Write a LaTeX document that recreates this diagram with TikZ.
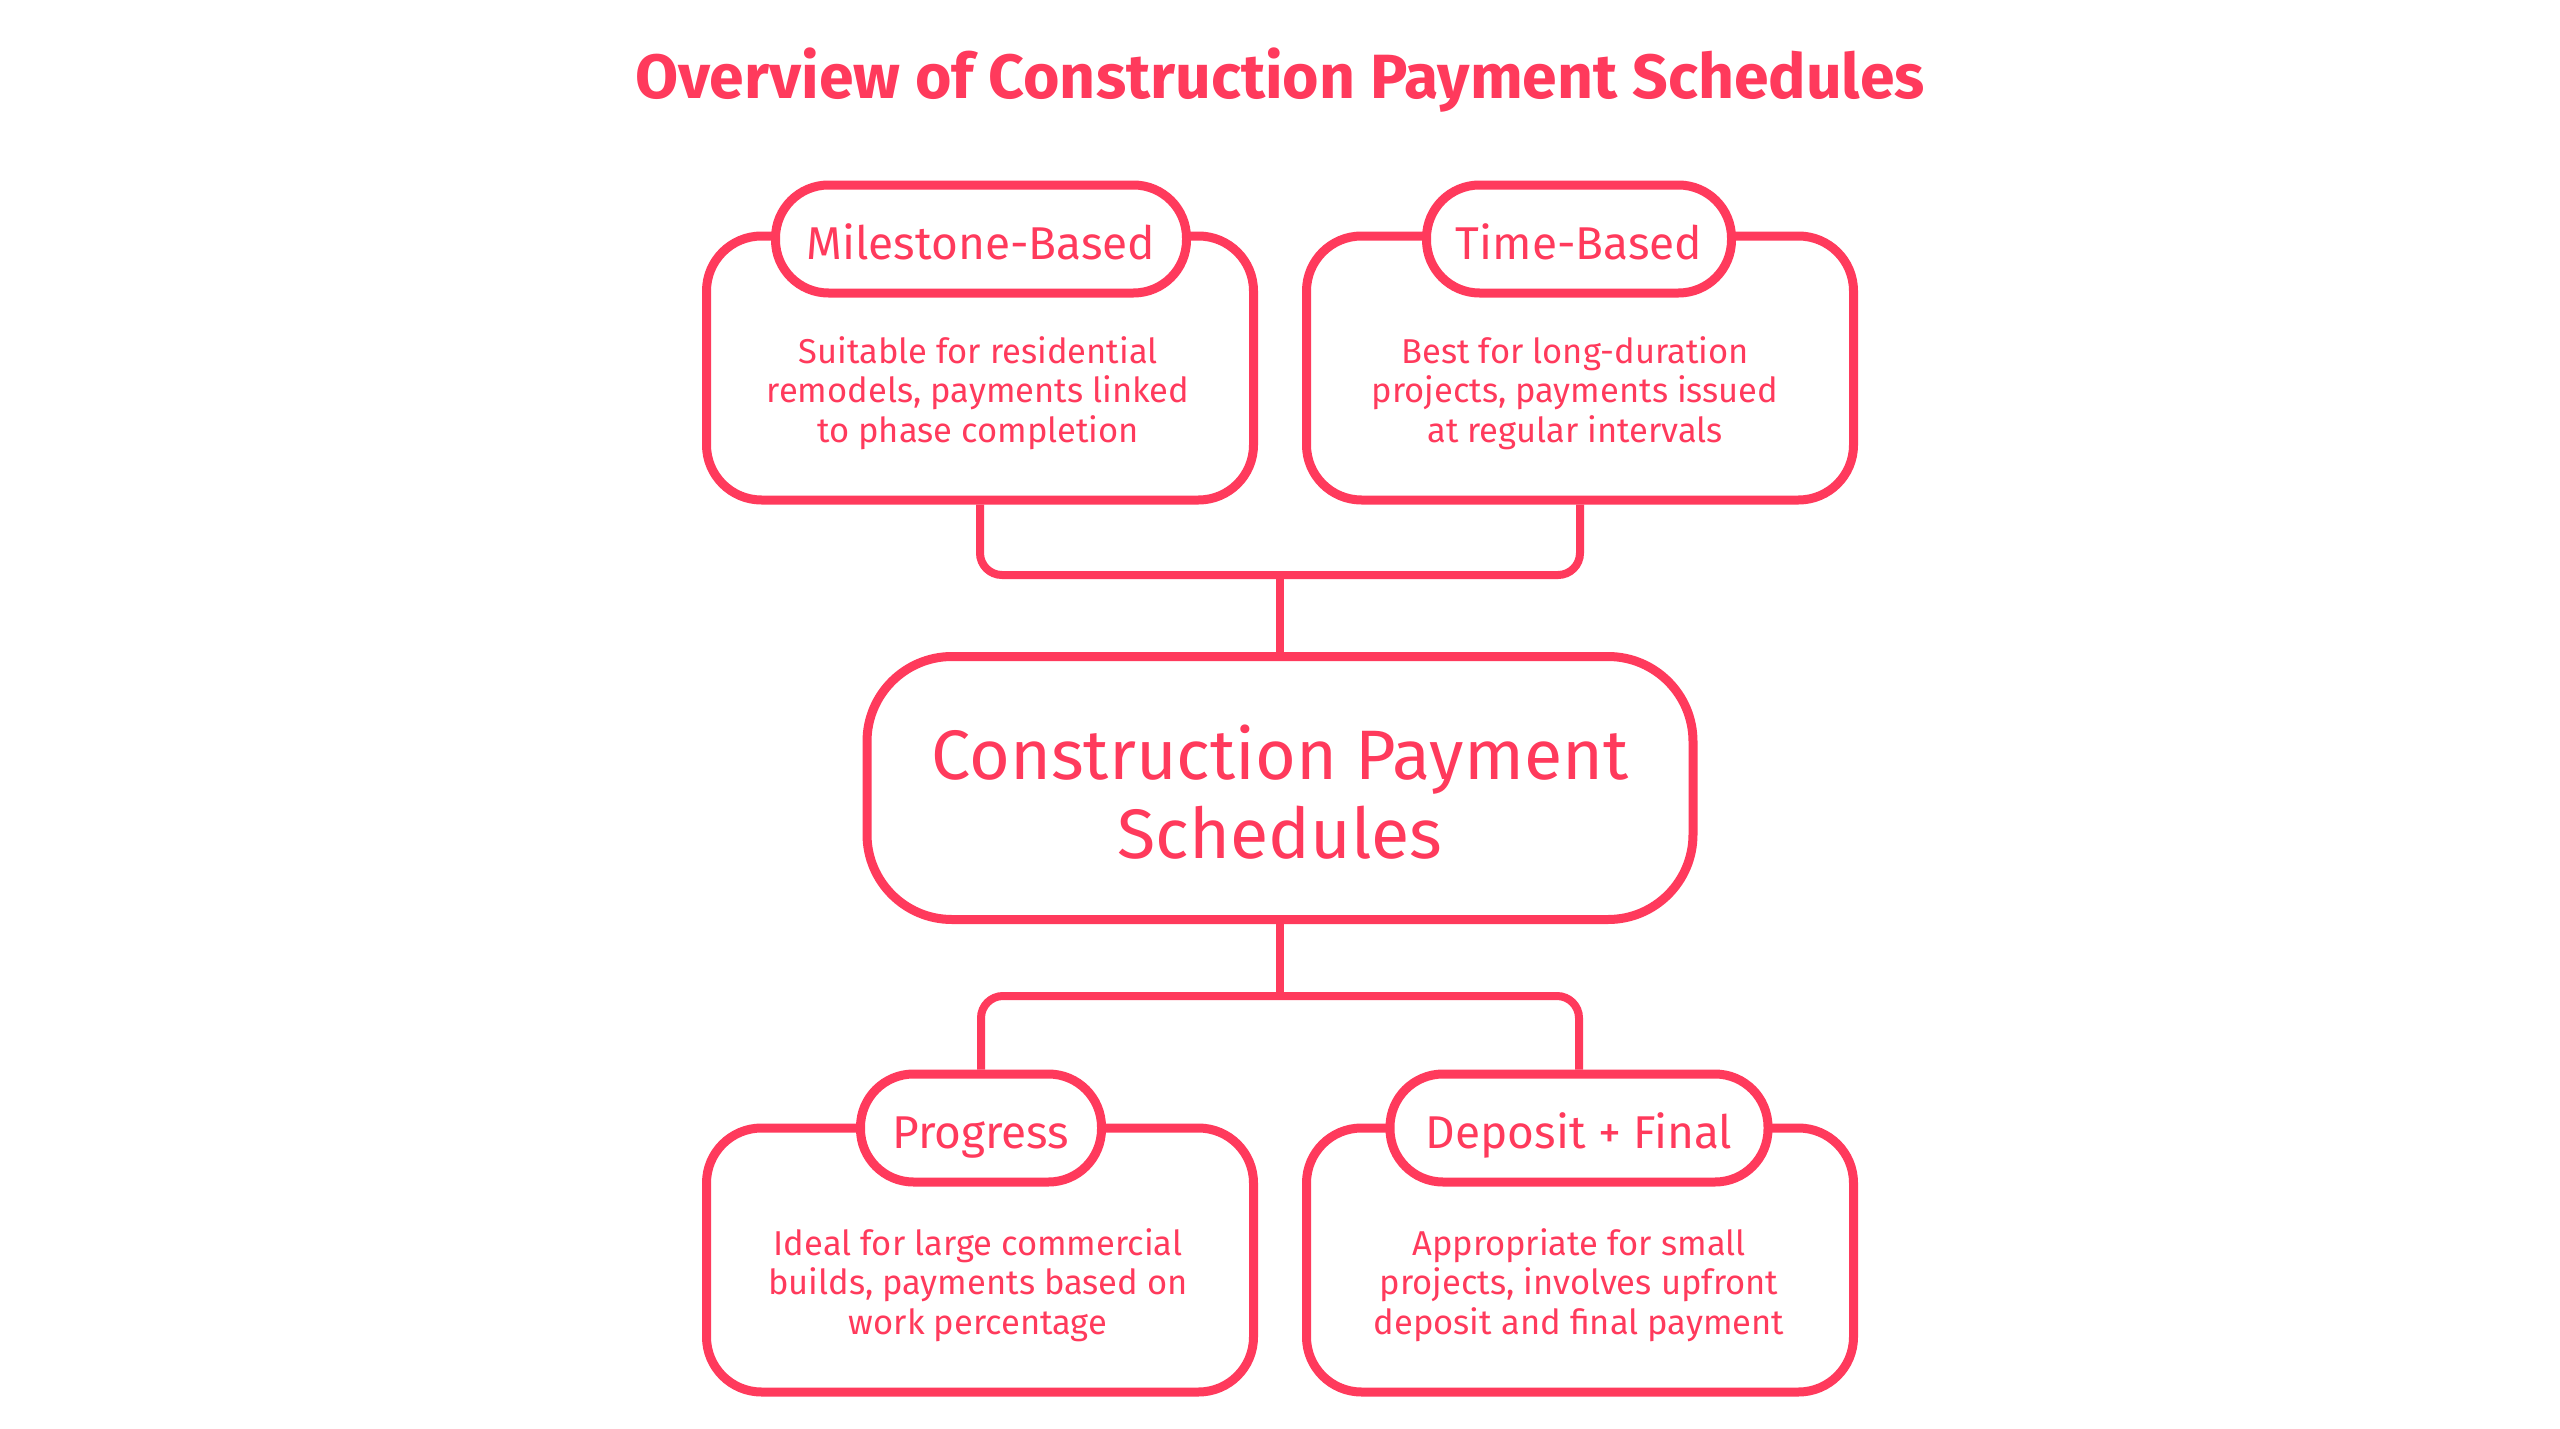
\documentclass[tikz,border=0pt]{standalone}
\usepackage{fontspec}
\setmainfont{Fira Sans}
\definecolor{pk}{HTML}{FF3A5C}
\begin{document}
\begin{tikzpicture}[x=1pt,y=-1pt,
  box/.style={draw=pk,line width=9pt,fill=white,rounded corners=55pt,minimum width=547pt,minimum height=264pt,inner sep=0pt},
  pill/.style={draw=pk,line width=9pt,fill=white,rounded corners=53pt,minimum height=108pt,inner sep=0pt,text=pk,text height=40pt,text depth=0pt,font=\fontsize{46}{54}\selectfont},
  desc/.style={text=pk,align=center,font=\fontsize{34.5}{39.5}\selectfont},
  centre/.style={draw=pk,line width=9pt,fill=white,rounded corners=85pt,minimum width=826pt,minimum height=263pt,inner sep=0pt,text=pk,align=center,font=\fontsize{70}{79}\selectfont},
  conn/.style={draw=pk,line width=8pt,rounded corners=22pt}]
\fill[white] (0,0) rectangle (2560,1429);
\useasboundingbox (0,0) rectangle (2560,1429);
\node[text=pk,font=\bfseries\fontsize{62.5}{70}\selectfont] (title) at (1280,80) {Overview of Construction Payment Schedules};
% connector joints
\coordinate (topbar) at (1280,575);
\coordinate (botbar) at (1280,996);
% boxes
\node[box] (ms) at (980,368) {};
\node[box] (ts) at (1580,368) {};
\node[box] (pr) at (980,1260) {};
\node[box] (dp) at (1580,1260) {};
\draw[conn] (ms.south) |- (topbar) -| (ts.south);
\node[centre] (cp) at (1280,788) {\rule{0pt}{62pt}Construction Payment\\Schedules};
\draw[conn] (topbar) -- (cp.north);
\node[pill,minimum width=411pt] (msl) at (981,239) {Milestone-Based};
\node[pill,minimum width=305pt] (tsl) at (1579,239) {Time-Based};
\node[pill,minimum width=241pt] (prl) at (981,1128) {Progress};
\node[pill,minimum width=378pt] (dpl) at (1579,1128) {Deposit + Final};
\draw[conn] (cp.south) -- (botbar);
\draw[conn] (prl.north) |- (botbar) -| (dpl.north);
\node[desc] (msd) at (978,393) {Suitable for residential\\remodels, payments linked\\to phase completion};
\node[desc] (tsd) at (1575,393) {Best for long-duration\\projects, payments issued\\at regular intervals};
\node[desc] (prd) at (978,1285) {Ideal for large commercial\\builds, payments based on\\work percentage};
\node[desc] (dpd) at (1579,1285) {Appropriate for small\\projects, involves upfront\\deposit and final payment};
\end{tikzpicture}
\end{document}
